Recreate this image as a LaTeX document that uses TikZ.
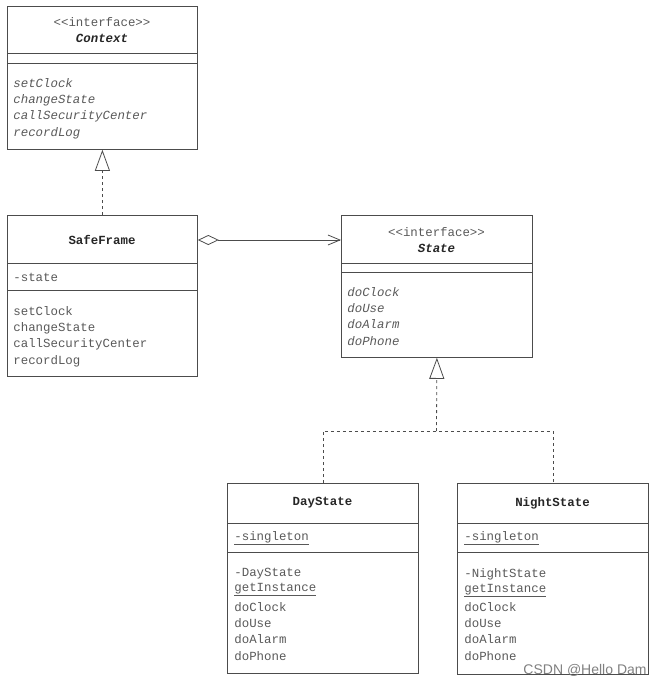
\documentclass[tikz,border=0pt]{standalone}
\usepackage{fontspec}
\setmonofont{Liberation Mono}
\newfontfamily\markfont{Liberation Sans}
\usetikzlibrary{arrows.meta,positioning}

\begin{document}
\begin{tikzpicture}[x=1pt, y=-1pt, line width=0.8pt,
  every node/.style={font=\ttfamily\fontsize{12.4}{16.3}\selectfont, text=black!65},
  classbox/.style={rectangle, draw=black!70, anchor=north west, minimum width=191pt, inner sep=0pt},
  title/.style={align=center, text=black!85, font=\ttfamily\bfseries\fontsize{12.4}{15.5}\selectfont},
  members/.style={align=left, anchor=north west, inner sep=0pt},
  field/.style={anchor=base west, inner sep=0pt},
  sep/.style={draw=black!70},
  realize/.style={draw=black!70, dashed, -{Triangle[open, length=21pt, width=15pt]}},
  aggr/.style={draw=black!70, {Diamond[open, length=21pt, width=10pt]}-{Straight Barb[length=12pt, width=10pt]}}
]
\useasboundingbox (0,0) rectangle (657,683);

% Context interface (top left)
\node[classbox, minimum width=190pt, minimum height=143pt] (context) at (7,6) {};
\node[title] (contextname) at (102,30) {{\mdseries\color{black!65}<<interface>>}\\\textit{Context}};
\draw[sep] (context.west |- 0,53) -- (context.east |- 0,53);
\draw[sep] (context.west |- 0,63) -- (context.east |- 0,63);
\node[members] (contextops) at (13,78) {\textit{setClock}\\\textit{changeState}\\\textit{callSecurityCenter}\\\textit{recordLog}};

% SafeFrame class (below Context)
\node[classbox, minimum width=190pt, minimum height=161pt] (safeframe) at (7,215) {};
\node[title] (sfname) at (102,240) {SafeFrame};
\draw[sep] (safeframe.west |- 0,263) -- (safeframe.east |- 0,263);
\draw[sep] (safeframe.west |- 0,290) -- (safeframe.east |- 0,290);
\node[field] (sffield) at (13,281) {-state};
\node[members] (sfops) at (13,306) {setClock\\changeState\\callSecurityCenter\\recordLog};

% State interface (right)
\node[classbox, minimum height=142pt] (state) at (341,215) {};
\node[title] (statename) at (436.5,240) {{\mdseries\color{black!65}<<interface>>}\\\textit{State}};
\draw[sep] (state.west |- 0,263) -- (state.east |- 0,263);
\draw[sep] (state.west |- 0,272) -- (state.east |- 0,272);
\node[members] (stateops) at (347,287) {\textit{doClock}\\\textit{doUse}\\\textit{doAlarm}\\\textit{doPhone}};

% DayState class (bottom)
\node[classbox, minimum height=190pt] (daystate) at (227,483) {};
\node[title] (dayname) at (322.5,503) {DayState};
\draw[sep] (daystate.west |- 0,523) -- (daystate.east |- 0,523);
\draw[sep] (daystate.west |- 0,552) -- (daystate.east |- 0,552);
\node[field] (dayfield) at (234,540) {\underline{-singleton}};
\node[members] (dayctor) at (234,568) {-DayState\\[-1.5pt]\underline{getInstance}};
\node[members] (dayops) at (234,602) {doClock\\doUse\\doAlarm\\doPhone};

% NightState class (bottom right)
\node[classbox, minimum height=191pt] (nightstate) at (457,483) {};
\node[title] (nightname) at (552.5,503) {NightState};
\draw[sep] (nightstate.west |- 0,523) -- (nightstate.east |- 0,523);
\draw[sep] (nightstate.west |- 0,552) -- (nightstate.east |- 0,552);
\node[field] (nightfield) at (464,540) {\underline{-singleton}};
\node[members] (nightctor) at (464,568) {-NightState\\[-1.5pt]\underline{getInstance}};
\node[members] (nightops) at (464,602) {doClock\\doUse\\doAlarm\\doPhone};

% Watermark
\node[anchor=base east, inner sep=0pt, text=black!50, font=\markfont\fontsize{14}{14}\selectfont] (mark) at (647,674) {CSDN @Hello Dam};

% Arrows - realization of Context
\draw[realize] (safeframe.north) -- (context.south);

% Arrows - SafeFrame holds a State
\draw[aggr] (sfname -| safeframe.east) -- (sfname -| state.west);

% Arrows - realization of State
\coordinate (fork) at (436.5,431);
\draw[draw=black!70, dashed] (daystate.north) |- (fork) -| (nightstate.north);
\draw[realize] (fork) -- (state.south);

\end{tikzpicture}
\end{document}
